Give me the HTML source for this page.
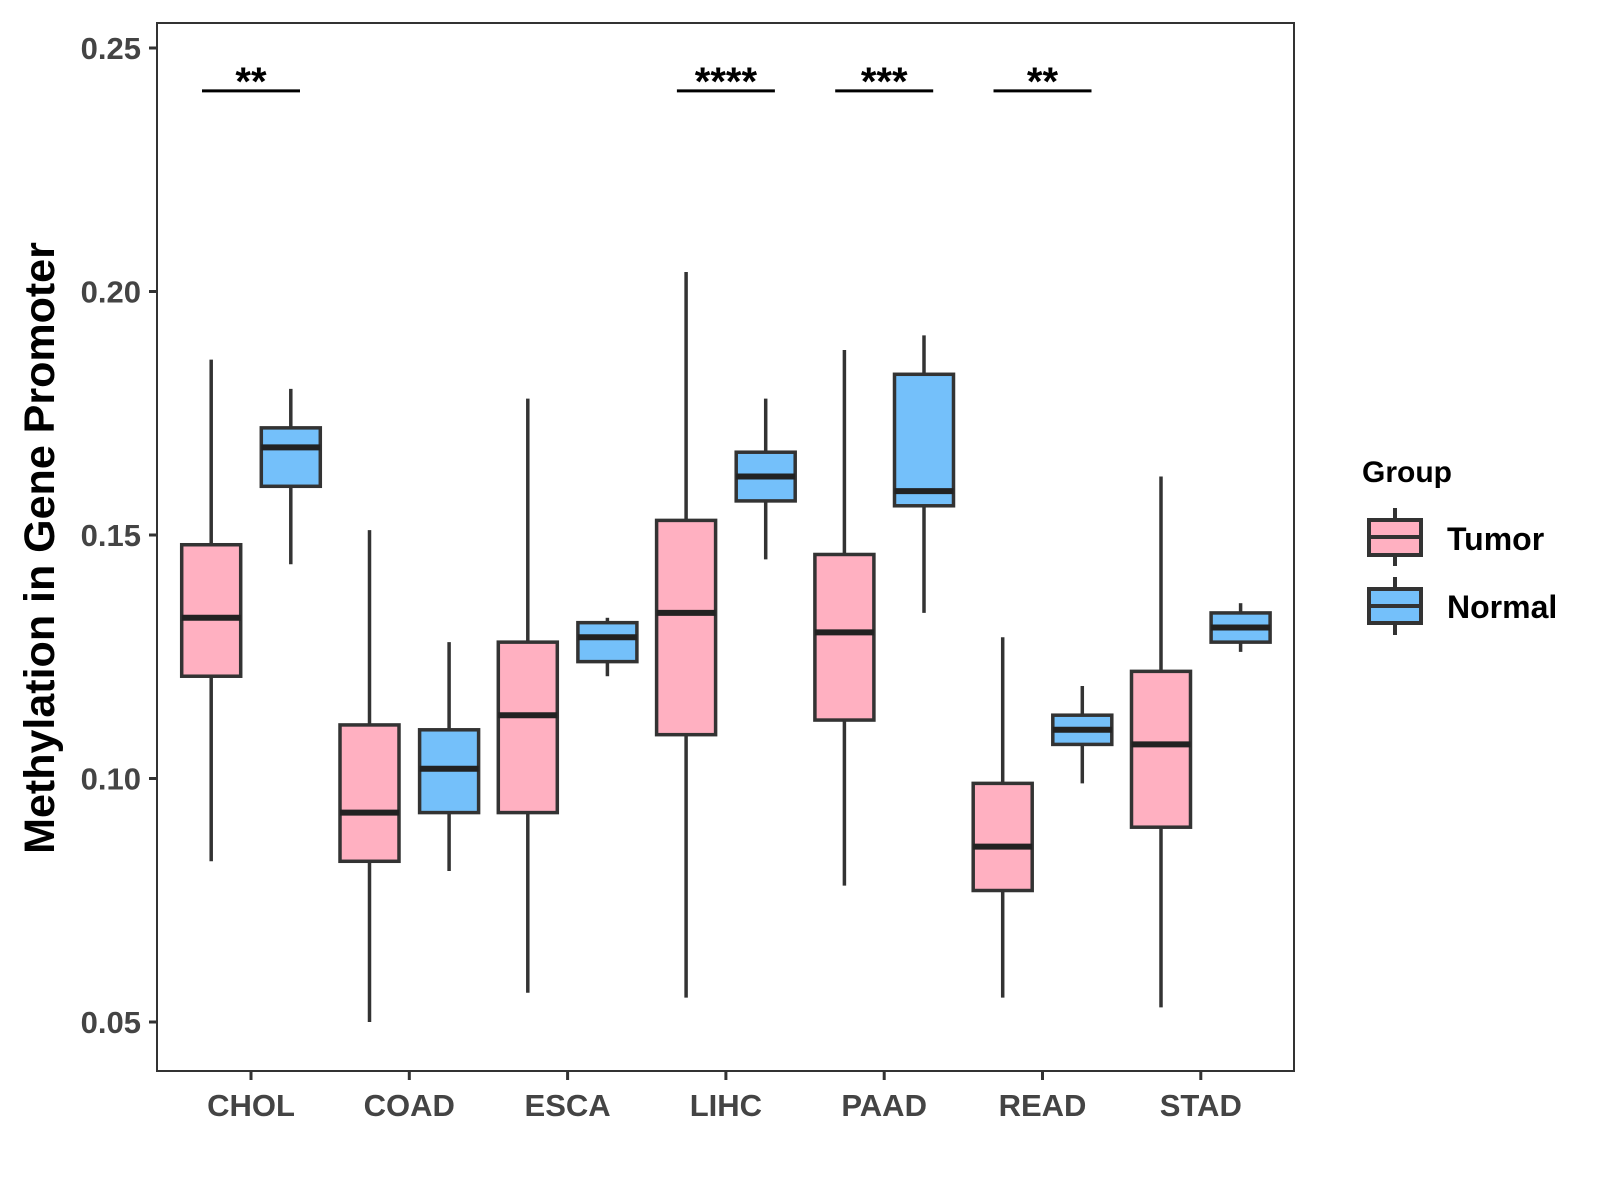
<!DOCTYPE html>
<html><head><meta charset="utf-8"><style>
body{margin:0;background:#fff}
svg{display:block}
text{font-family:"Liberation Sans",Arial,sans-serif;font-weight:bold}
</style></head><body>
<svg id="chart" width="1600" height="1200" xmlns="http://www.w3.org/2000/svg">
<rect x="157" y="23" width="1137" height="1048" fill="#fff" stroke="#333" stroke-width="2"/>
<g id="marks"></g>
<text transform="translate(54,548) rotate(-90)" text-anchor="middle" font-size="43" fill="#000">Methylation in Gene Promoter</text>
<g>
<text x="1362" y="482" font-size="30" fill="#000">Group</text>
<g>
<line x1="1395" y1="508" x2="1395" y2="566" stroke="#333" stroke-width="4"/>
<rect x="1369" y="520" width="52" height="35" fill="#FFB0C1" stroke="#333" stroke-width="4"/>
<line x1="1369" y1="537" x2="1421" y2="537" stroke="#333" stroke-width="4"/>
<text x="1447" y="550" font-size="32" fill="#000">Tumor</text></g>
<g>
<line x1="1395" y1="577" x2="1395" y2="635" stroke="#333" stroke-width="4"/>
<rect x="1369" y="589" width="52" height="34" fill="#74C0FA" stroke="#333" stroke-width="4"/>
<line x1="1369" y1="606" x2="1421" y2="606" stroke="#333" stroke-width="4"/>
<text x="1447" y="618" font-size="32" fill="#000">Normal</text></g>
</g>
</svg>
<script>
const categories=["CHOL","COAD","ESCA","LIHC","PAAD","READ","STAD"];
const tumorMin=[0.083,0.050,0.056,0.055,0.078,0.055,0.053];
const tumorQ1=[0.121,0.083,0.093,0.109,0.112,0.077,0.090];
const tumorMed=[0.133,0.093,0.113,0.134,0.130,0.086,0.107];
const tumorQ3=[0.148,0.111,0.128,0.153,0.146,0.099,0.122];
const tumorMax=[0.186,0.151,0.178,0.204,0.188,0.129,0.162];
const normalMin=[0.144,0.081,0.121,0.145,0.134,0.099,0.126];
const normalQ1=[0.160,0.093,0.124,0.157,0.156,0.107,0.128];
const normalMed=[0.168,0.102,0.129,0.162,0.159,0.110,0.131];
const normalQ3=[0.172,0.110,0.132,0.167,0.183,0.113,0.134];
const normalMax=[0.180,0.128,0.133,0.178,0.191,0.119,0.136];
const sigLabels=["**","","","****","***","**",""];
const sigLevel=0.2412;
const yTicks=[0.05,0.10,0.15,0.20,0.25];
const tickLabels=["0.05","0.10","0.15","0.20","0.25"];

const NS="http://www.w3.org/2000/svg";
const y=v=>1022-(v-0.05)/0.2*974;
const x=i=>251+i*158.3;
const g=document.getElementById('marks');
function mk(t,a,txt){const e=document.createElementNS(NS,t);for(const k in a)e.setAttribute(k,a[k]);if(txt!=null)e.textContent=txt;g.appendChild(e);return e;}
yTicks.forEach((v,i)=>{
 const t=mk('line',{x1:149,x2:157,y1:y(v),y2:y(v),stroke:'#333','stroke-width':3});
 
 
 const l=mk('text',{x:141,y:y(v)+11,'text-anchor':'end','font-size':31,fill:'#444'},tickLabels[i]);
 
 
});
categories.forEach((c,i)=>{
 const t=mk('line',{x1:x(i),x2:x(i),y1:1071,y2:1080,stroke:'#333','stroke-width':3});
 
 
 const l=mk('text',{x:x(i),y:1116,'text-anchor':'middle','font-size':31,fill:'#444'},c);
 
 
 [[-39.8,'#FFB0C1',tumorMin,tumorQ1,tumorMed,tumorQ3,tumorMax,'tumor'],[39.8,'#74C0FA',normalMin,normalQ1,normalMed,normalQ3,normalMax,'normal']].forEach(s=>{
  const cx=x(i)+s[0],hw=29.5;
  const w=mk('line',{x1:cx,x2:cx,y1:y(s[6][i]),y2:y(s[2][i]),stroke:'#333','stroke-width':3.5});
  
  
  const b=mk('rect',{x:cx-hw,y:y(s[5][i]),width:2*hw,height:y(s[3][i])-y(s[5][i]),fill:s[1],stroke:'#333','stroke-width':3.5});
  
  
  const m=mk('line',{x1:cx-hw,x2:cx+hw,y1:y(s[4][i]),y2:y(s[4][i]),stroke:'#222','stroke-width':6});
  
  
 });
 if(sigLabels[i]){
  const sl=mk('line',{x1:x(i)-49,x2:x(i)+49,y1:y(sigLevel),y2:y(sigLevel),stroke:'#000','stroke-width':3});
  
  
  const st=mk('text',{x:x(i),y:y(sigLevel)+4,'text-anchor':'middle','font-size':40,fill:'#000'},sigLabels[i]);
  
  
 }
});
</script>
</body></html>
